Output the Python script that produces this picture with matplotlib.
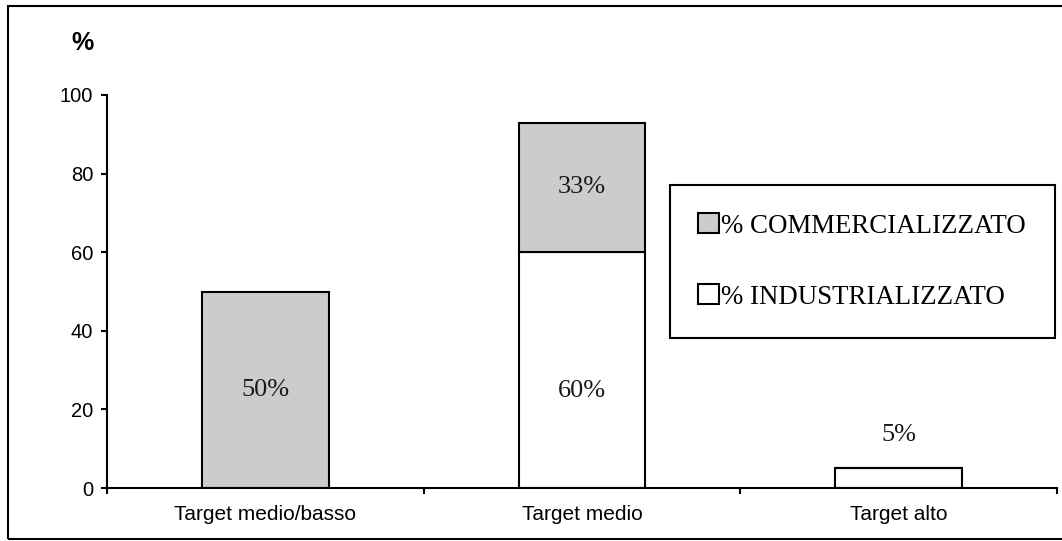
import numpy as np
import matplotlib
matplotlib.use("Agg")
import matplotlib.pyplot as plt
from matplotlib.patches import Patch, Rectangle

# data
categories = ["Target medio/basso", "Target medio", "Target alto"]
industrializzato = [0, 60, 5]
commercializzato = [50, 33, 0]
labels_ind = ["", "60%", "5%"]
labels_com = ["50%", "33%", ""]
yticks = [0, 20, 40, 60, 80, 100]

grey = "#cccccc"
serif = ["Liberation Serif", "DejaVu Serif"]
sans = ["Liberation Sans", "DejaVu Sans"]

fig = plt.figure(figsize=(10.62, 5.41), dpi=100)
ax = fig.add_axes([107 / 1062, 53 / 541, 950 / 1062, 393 / 541])

x = np.arange(len(categories))
w = 0.40
ax.bar(x, industrializzato, w, color="white", edgecolor="black", linewidth=1.5)
ax.bar(x, commercializzato, w, bottom=industrializzato, color=grey,
       edgecolor="black", linewidth=1.5)

# value labels (y positions are layout, as in the original picture)
ind_label_y = [0, 24.7, 13.5]
com_label_y = [25, 76.5, 0]
for i in range(len(categories)):
    if labels_ind[i]:
        ax.text(x[i], ind_label_y[i], labels_ind[i], ha="center", va="center",
                fontsize=19, family=serif, color="#1a1a1a")
    if labels_com[i]:
        ax.text(x[i], com_label_y[i], labels_com[i], ha="center", va="center",
                fontsize=19, family=serif, color="#1a1a1a")

ax.set_xlim(-0.5, len(categories) - 0.5)
ax.set_ylim(0, 100)
ax.set_yticks(yticks)
ax.set_yticklabels([str(v) for v in yticks], family=sans, fontsize=14.5)
ax.set_xticks(x)
ax.set_xticklabels(categories, family=sans, fontsize=15)
ax.set_xticks(np.arange(len(categories) + 1) - 0.5, minor=True)
ax.tick_params(axis="x", which="major", length=0, pad=12)
ax.tick_params(axis="x", which="minor", length=4, width=1.5, direction="out")
ax.tick_params(axis="y", length=4, width=1.5, direction="out", pad=6)

for s in ["top", "right"]:
    ax.spines[s].set_visible(False)
for s in ["left", "bottom"]:
    ax.spines[s].set_linewidth(1.5)

fig.text(83 / 1062, 1 - 43 / 541, "%", ha="center", va="center",
         fontsize=18, fontweight="bold", family=sans)

handles = [Patch(facecolor=grey, edgecolor="black", linewidth=1.5),
           Patch(facecolor="white", edgecolor="black", linewidth=1.5)]
leg = ax.legend(handles, ["% COMMERCIALIZZATO", "% INDUSTRIALIZZATO"],
                loc="upper left", bbox_to_anchor=(670 / 1062, 1 - 185 / 541),
                bbox_transform=fig.transFigure, borderaxespad=0,
                prop={"family": serif, "size": 19.4},
                handlelength=0.76, handleheight=0.76, handletextpad=0.1,
                labelspacing=1.7, borderpad=1.05, fancybox=False,
                framealpha=1, edgecolor="black")
leg.get_frame().set_linewidth(1.5)

# outer frame around the whole picture
fig.patches.append(Rectangle((8 / 1062, 2 / 541), 1.1, 1 - 8 / 541,
                             transform=fig.transFigure, fill=False,
                             edgecolor="black", linewidth=1.5, clip_on=False))

fig.savefig("out.png", dpi=100)
